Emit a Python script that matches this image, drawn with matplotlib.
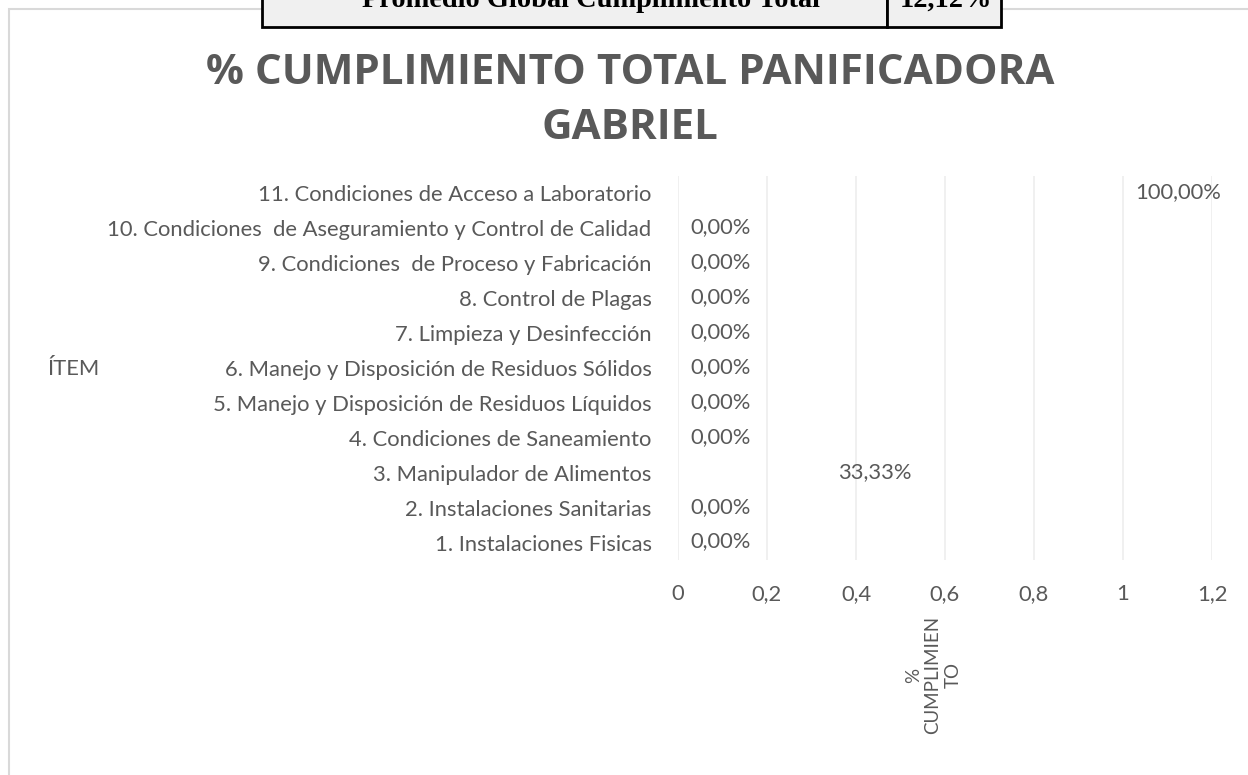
import matplotlib
matplotlib.use("Agg")
import matplotlib.pyplot as plt
from matplotlib.patches import Rectangle
import matplotlib.transforms as mtransforms

categories = [
    "1. Instalaciones Fisicas",
    "2. Instalaciones Sanitarias",
    "3. Manipulador de Alimentos",
    "4. Condiciones de Saneamiento",
    "5. Manejo y Disposición de Residuos Líquidos",
    "6. Manejo y Disposición de Residuos Sólidos",
    "7. Limpieza y Desinfección",
    "8. Control de Plagas",
    "9. Condiciones  de Proceso y Fabricación",
    "10. Condiciones  de Aseguramiento y Control de Calidad",
    "11. Condiciones de Acceso a Laboratorio",
]
values = [0.0, 0.0, 1/3, 0.0, 0.0, 0.0, 0.0, 0.0, 0.0, 0.0, 1.0]
x_ticks = [0, 0.2, 0.4, 0.6, 0.8, 1.0, 1.2]
x_tick_labels = ["0", "0,2", "0,4", "0,6", "0,8", "1", "1,2"]
title = "% CUMPLIMIENTO TOTAL PANIFICADORA\nGABRIEL"
table_label = "Promedio Global Cumplimiento Total"
table_value = "12,12%"

W, H = 1248, 775
fig = plt.figure(figsize=(W / 100, H / 100), dpi=100)
fig.patch.set_facecolor("white")

FONT = "Lato"
GRAY = "#595959"
FS = 15.8

# chart border (extends beyond the image)
fig.patches.append(Rectangle((9 / W, -0.1), 1.2, 1 - 9 / H + 0.1,
                             transform=fig.transFigure, fill=False,
                             edgecolor="#d9d9d9", linewidth=1.5, zorder=0))

ax = fig.add_axes([678 / W, 1 - 560 / H, (1212 - 678) / W, (560 - 176) / H])
y = list(range(len(categories)))
ax.barh(y, values, height=0.6, fill=False, linewidth=0)
ax.set_xlim(0, 1.2)
ax.set_ylim(-0.5, len(categories) - 0.5)
ax.set_xticks(x_ticks)
ax.set_xticklabels(x_tick_labels, fontfamily=FONT, fontsize=FS, color=GRAY)
ax.set_yticks(y)
ax.set_yticklabels(categories, fontfamily=FONT, fontsize=FS, color=GRAY)
ax.tick_params(axis="both", length=0)
ax.tick_params(axis="y", pad=19)
ax.tick_params(axis="x", pad=17)
for s in ax.spines.values():
    s.set_visible(False)
ax.grid(axis="x", color="#eeeeee", linewidth=1.2)
ax.set_axisbelow(True)

off = mtransforms.offset_copy(ax.transData, fig=fig, x=12, y=1, units="dots")
for yi, v in zip(y, values):
    lab = f"{v * 100:.2f}%".replace(".", ",")
    ax.text(v, yi, lab, transform=off, ha="left", va="center",
            fontfamily=FONT, fontsize=FS, color=GRAY)

# title
fig.text(630 / W, 1 - 101 / H, title, ha="center", va="center",
         fontfamily="Open Sans", fontweight="bold", fontsize=30.3,
         color=GRAY, linespacing=1.42)

# axis titles
fig.text(47 / W, 1 - 369 / H, "ÍTEM", ha="left", va="center",
         fontfamily=FONT, fontsize=FS, color=GRAY)
fig.text(933 / W, 1 - 675 / H, "%\nCUMPLIMIEN\nTO", ha="center", va="center",
         rotation=90, multialignment="center",
         fontfamily=FONT, fontsize=13.5, color=GRAY, linespacing=1.2)

# table at top
fig.patches.append(Rectangle((262 / W, 1 - 27 / H), (887 - 262) / W, 40 / H,
                             transform=fig.transFigure, facecolor="#f0f0f0",
                             edgecolor="black", linewidth=2, zorder=3))
fig.patches.append(Rectangle((887 / W, 1 - 27 / H), (1001 - 887) / W, 40 / H,
                             transform=fig.transFigure, facecolor="#f0f0f0",
                             edgecolor="black", linewidth=2, zorder=3))
fig.text(591 / W, 1 - 7 / H, table_label, ha="center", va="baseline",
         fontfamily="Liberation Serif", fontweight="bold", fontsize=20.4,
         color="black", zorder=4)
fig.text(946 / W, 1 - 7 / H, table_value, ha="center", va="baseline",
         fontfamily="Liberation Serif", fontweight="bold", fontsize=20.4,
         color="black", zorder=4)

fig.savefig("out.png", dpi=100)
